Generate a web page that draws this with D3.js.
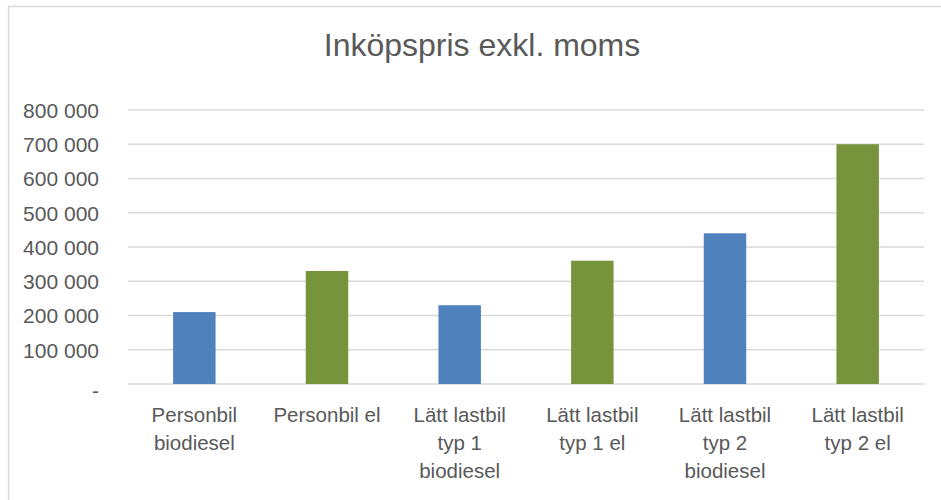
<!DOCTYPE html>
<html lang="sv">
<head>
<meta charset="UTF-8">
<title>Inköpspris exkl. moms</title>
<style>
  body { margin: 0; background: #fff; font-family: "Liberation Sans", Arial, sans-serif; }
  .tick text { fill: #595959; }
</style>
</head>
<body>
<div id="chart"></div>
<script src="https://d3js.org/d3.v7.min.js"></script>
<script>
// chart data
const categories = ["Personbil biodiesel", "Personbil el", "Lätt lastbil typ 1 biodiesel",
                    "Lätt lastbil typ 1 el", "Lätt lastbil typ 2 biodiesel", "Lätt lastbil typ 2 el"];
const categoryLines = [["Personbil", "biodiesel"], ["Personbil el"], ["Lätt lastbil", "typ 1", "biodiesel"],
                       ["Lätt lastbil", "typ 1 el"], ["Lätt lastbil", "typ 2", "biodiesel"], ["Lätt lastbil", "typ 2 el"]];
const prices = [210000, 330000, 230000, 360000, 440000, 700000];
const fuel = ["biodiesel", "el", "biodiesel", "el", "biodiesel", "el"];
const yTicks = [0, 100000, 200000, 300000, 400000, 500000, 600000, 700000, 800000];

const W = 941, H = 500;
const margin = {top: 110, right: 17, bottom: 116, left: 128};
const width = W - margin.left - margin.right;
const height = H - margin.top - margin.bottom;

const svg = d3.select('#chart').append('svg')
    .attr('width', W).attr('height', H);

// chart frame
svg.append('rect')
    .attr('x', 8.5).attr('y', 6.5)
    .attr('width', W).attr('height', H)
    .attr('fill', 'none').attr('stroke', '#d9d9d9').attr('stroke-width', 1.5);

svg.append('text')
    .attr('x', 482).attr('y', 56)
    .attr('text-anchor', 'middle')
    .style('font-size', '32px')
    .style('fill', '#595959')
    .text('Inköpspris exkl. moms');

const g = svg.append('g')
    .attr('transform', 'translate(' + margin.left + ',' + margin.top + ')');

const x = d3.scaleBand().domain(categories).range([0, width]).paddingInner(0.68).paddingOuter(0.34);
const y = d3.scaleLinear().domain([0, 800000]).range([height, 0]);

const fmt = d => d === 0 ? '-' : d3.format(',')(d).replace(/,/g, ' ');

// gridlines
g.append('g')
    .selectAll('line')
    .data(yTicks)
    .enter().append('line')
    .attr('x1', 0).attr('x2', width)
    .attr('y1', d => y(d)).attr('y2', d => y(d))
    .attr('stroke', '#d9d9d9').attr('stroke-width', 1.5);

// y axis labels
const yAxis = g.append('g')
    .call(d3.axisLeft(y).tickValues(yTicks).tickFormat(fmt).tickSize(0).tickPadding(29));
yAxis.select('.domain').remove();
yAxis.selectAll('text').style('font-size', '21px').attr('dy', '0.35em');
yAxis.selectAll('.tick').filter(d => d === 0).select('text').attr('dy', '0.65em');

// bars
g.selectAll('.bar')
    .data(categories)
    .enter().append('rect')
    .attr('class', 'bar')
    .attr('x', d => x(d))
    .attr('width', x.bandwidth())
    .attr('y', (d, i) => y(prices[i]))
    .attr('height', (d, i) => height - y(prices[i]))
    .attr('fill', (d, i) => fuel[i] === 'el' ? '#77933c' : '#4f81bd');

// category labels
const xAxis = g.append('g')
    .attr('transform', 'translate(0,' + height + ')')
    .call(d3.axisBottom(x).tickSize(0).tickFormat(''));
xAxis.select('.domain').remove();
xAxis.selectAll('.tick').each(function(d, i) {
    const t = d3.select(this).append('text')
        .attr('text-anchor', 'middle')
        .attr('y', 38)
        .style('font-size', '20.5px')
        .style('fill', '#595959');
    categoryLines[i].forEach((line, j) => {
        t.append('tspan').attr('x', 0).attr('dy', j === 0 ? 0 : 28).text(line);
    });
});
</script>
</body>
</html>
